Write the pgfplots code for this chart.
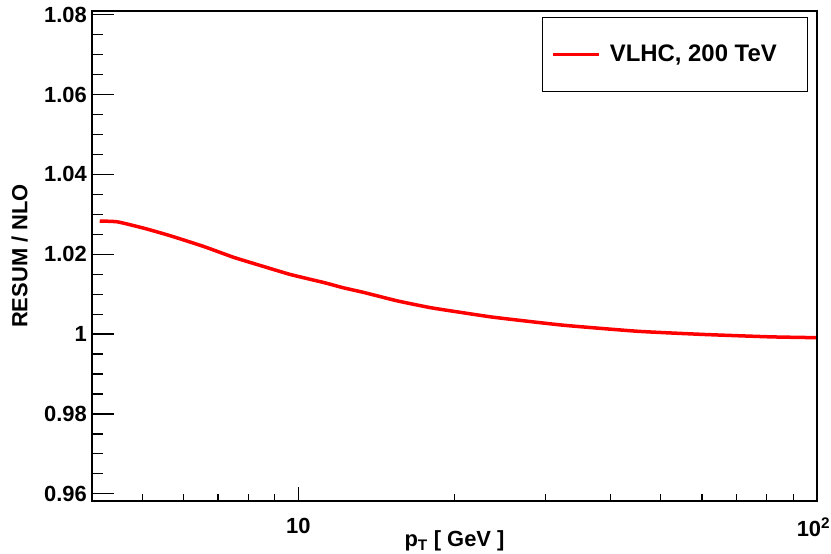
\documentclass[border=0pt]{standalone}
\usepackage{fontspec}
\setmainfont{Liberation Sans}
\usepackage{pgfplots}
\pgfplotsset{compat=1.18}
\begin{document}
\begin{tikzpicture}
\useasboundingbox (0bp,0bp) rectangle (831bp,554bp);
\begin{axis}[
  at={(92bp,53bp)}, anchor=south west,
  scale only axis, width=725bp, height=490bp,
  xmode=log, xmin=4, xmax=100, ymin=0.9582, ymax=1.0809,
  axis line style={line width=1.4bp, black},
  xtick={10,100},
  xticklabels={10,10\textsuperscript{2}\rule{7bp}{0pt}},
  minor xtick={4,5,6,7,8,9,20,30,40,50,60,70,80,90},
  ytick={0.96,0.98,1,1.02,1.04,1.06,1.08},
  yticklabels={0.96,0.98,1,1.02,1.04,1.06,1.08},
  minor ytick={0.965,0.97,0.975,0.985,0.99,0.995,1.005,1.01,1.015,1.025,1.03,1.035,1.045,1.05,1.055,1.065,1.07,1.075},
  tick align=inside,
  xtick pos=left, ytick pos=left,
  xtick style={line width=1.2bp, black, /pgfplots/major tick length=14bp, /pgfplots/minor tick length=7bp},
  ytick style={line width=1.2bp, black, /pgfplots/major tick length=22bp, /pgfplots/minor tick length=11bp},
  ticklabel style={font=\fontsize{22}{26}\selectfont\bfseries},
  xticklabel style={inner sep=0pt, anchor=north, yshift=-17bp},
  yticklabel style={inner sep=0pt, anchor=east, xshift=-5bp},
  xlabel={p\textsubscript{T} [ GeV ]},
  ylabel={RESUM / NLO},
  label style={font=\fontsize{22}{26}\selectfont\bfseries},
  xlabel style={at={(axis description cs:0.5,-0.0933)}, anchor=base, inner sep=0pt},
  ylabel style={at={(axis description cs:-0.0892,0.5)}, anchor=base, rotate=0, inner sep=0pt},
  legend style={at={(0.988,0.9884)}, anchor=north east, draw=black, line width=1bp,
    inner xsep=9bp, inner ysep=28bp, font=\fontsize{24}{28}\selectfont\bfseries,
    nodes={inner sep=0pt}, column sep=9bp},
  legend cell align=left,
  legend image code/.code={\draw[#1, line width=3.5bp] (0bp,0bp) -- (46bp,0bp);},
]
\addplot[red, line width=3.5bp, smooth, tension=0.3] coordinates {
(4.14,1.0283)
(4.48,1.0281)
(5.04,1.0265)
(5.67,1.0246)
(6.58,1.0219)
(7.51,1.0192)
(8.58,1.0169)
(9.66,1.0149)
(11.20,1.0129)
(12.2,1.0116)
(13.39,1.0104)
(15.53,1.0083)
(18.0,1.0066)
(20.87,1.0053)
(23.5,1.0043)
(26.06,1.0036)
(32.54,1.0022)
(45.09,1.0007)
(60.6,0.9999)
(81.5,0.9993)
(99.5,0.9991)
};
\addlegendentry{VLHC, 200 TeV\rule{22bp}{0pt}}
\end{axis}
\end{tikzpicture}
\end{document}
